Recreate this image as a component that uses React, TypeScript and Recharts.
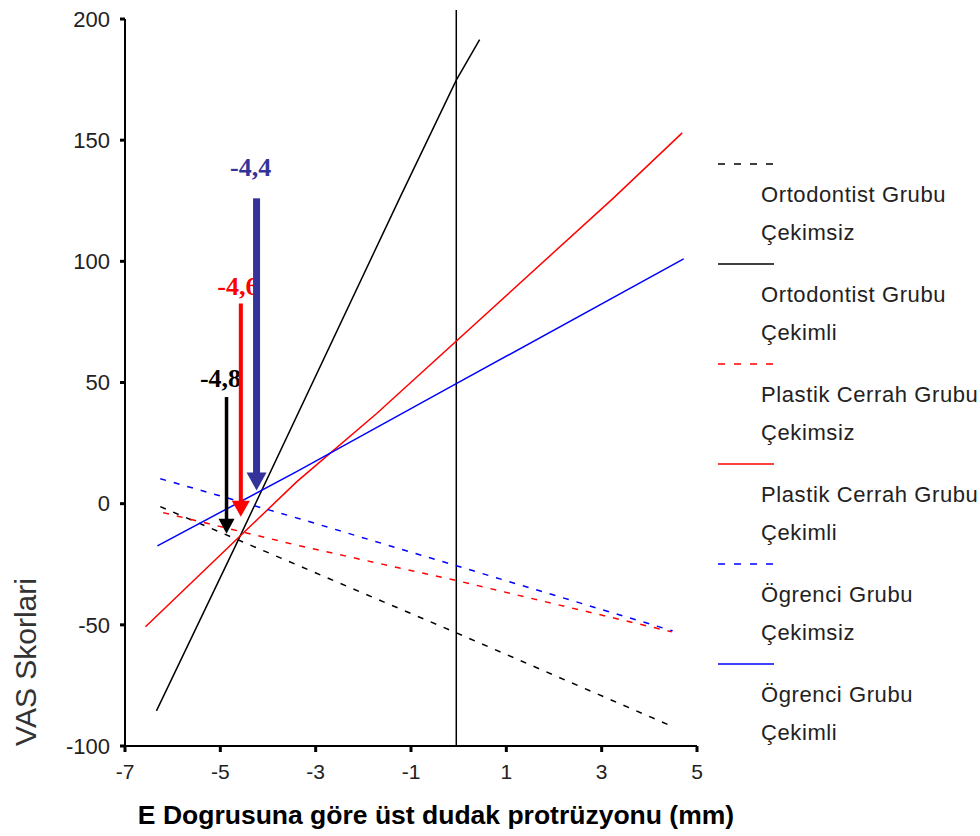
import React from 'react';
import { LineChart, Line, XAxis, YAxis, ReferenceLine, Legend } from 'recharts';

const xTicks = [-7, -5, -3, -1, 1, 3, 5];
const yTicks = [-100, -50, 0, 50, 100, 150, 200];

const ortoCekimsiz = [
  { x: -6.26, y: -1.2 },
  { x: -5.18, y: -10.3 },
  { x: -0.05, y: -53.3 },
  { x: 4.49, y: -92 },
];
const ortoCekimli = [
  { x: -6.34, y: -85.5 },
  { x: -4.66, y: -16.5 },
  { x: -1.24, y: 126 },
  { x: -0.05, y: 174.8 },
  { x: 0.44, y: 191.5 },
];
const plastikCekimsiz = [
  { x: -6.2, y: -3.7 },
  { x: -3.34, y: -17.4 },
  { x: -0.05, y: -31.7 },
  { x: 4.47, y: -52.9 },
];
const plastikCekimli = [
  { x: -6.57, y: -50.8 },
  { x: -3.4, y: 9 },
  { x: -1.72, y: 37.2 },
  { x: 3.24, y: 126 },
  { x: 4.69, y: 153 },
];
const ogrenciCekimsiz = [
  { x: -6.26, y: 10.3 },
  { x: -3.34, y: -6.2 },
  { x: -0.05, y: -25.6 },
  { x: 4.49, y: -52.5 },
];
const ogrenciCekimli = [
  { x: -6.32, y: -17.4 },
  { x: -3.4, y: 13.2 },
  { x: -0.05, y: 49.5 },
  { x: 4.72, y: 101 },
];

const refX = -0.05;
const refTop = 203.7;

const arrows = [
  { label: '-4,8', x: -4.87, top: 44, tip: -12.4, color: '#000000' },
  { label: '-4,6', x: -4.57, top: 82.6, tip: -5.4, color: '#ff0000' },
  { label: '-4,4', x: -4.24, top: 126, tip: 5.4, color: '#333399' },
];
const arrowStyle = [
  { shaft: 3.5, headW: 16, headL: 15, dx: -6, dy: -10 },
  { shaft: 4, headW: 18, headL: 16, dx: -3, dy: -8 },
  { shaft: 7, headW: 20, headL: 18, dx: -6, dy: -22 },
];

const legendItems = [
  { name1: 'Ortodontist Grubu', name2: 'Çekimsiz', color: '#000000', dash: true },
  { name1: 'Ortodontist Grubu', name2: 'Çekimli', color: '#000000', dash: false },
  { name1: 'Plastik Cerrah Grubu', name2: 'Çekimsiz', color: '#ff0000', dash: true },
  { name1: 'Plastik Cerrah Grubu', name2: 'Çekimli', color: '#ff0000', dash: false },
  { name1: 'Ögrenci Grubu', name2: 'Çekimsiz', color: '#0000ff', dash: true },
  { name1: 'Ögrenci Grubu', name2: 'Çekimli', color: '#0000ff', dash: false },
];

const series = [
  { data: ortoCekimsiz, color: '#000000', dash: true, name: 'oc' },
  { data: ortoCekimli, color: '#000000', dash: false, name: 'ol' },
  { data: plastikCekimsiz, color: '#ff0000', dash: true, name: 'pc' },
  { data: plastikCekimli, color: '#ff0000', dash: false, name: 'pl' },
  { data: ogrenciCekimsiz, color: '#0000ff', dash: true, name: 'gc' },
  { data: ogrenciCekimli, color: '#0000ff', dash: false, name: 'gl' },
];

const makeArrow = (i: number) => (props: any) => {
  const { x1, y1, x2, y2 } = props;
  const a = arrows[i];
  const s = arrowStyle[i];
  const x = x1;
  const top = Math.min(y1, y2);
  const tip = Math.max(y1, y2);
  return (
    <g>
      <text
        x={x + s.dx}
        y={top + s.dy}
        textAnchor="middle"
        fill={a.color}
        fontFamily="'Liberation Serif', serif"
        fontWeight="bold"
        fontSize={26}
      >
        {a.label}
      </text>
      <rect x={x - s.shaft / 2} y={top} width={s.shaft} height={tip - top - s.headL + 1} fill={a.color} />
      <polygon
        points={`${x - s.headW / 2},${tip - s.headL} ${x + s.headW / 2},${tip - s.headL} ${x},${tip}`}
        fill={a.color}
      />
    </g>
  );
};

const renderLegend = () => (
  <div style={{ fontFamily: "'Liberation Sans', Arial, sans-serif", fontSize: 22, color: '#222', letterSpacing: '0.6px' }}>
    {legendItems.map((it, i) => (
      <div key={i} style={{ position: 'relative', height: 100 }}>
        <svg width={56} height={20} style={{ position: 'absolute', left: 0, top: 0 }}>
          <line
            x1={0}
            y1={10}
            x2={56}
            y2={10}
            stroke={it.color}
            strokeWidth={1.5}
            strokeDasharray={it.dash ? '7 9' : undefined}
          />
        </svg>
        <div style={{ position: 'absolute', left: 43, top: 41, transform: 'translateY(-50%)', whiteSpace: 'nowrap', lineHeight: '24px' }}>
          {it.name1}
        </div>
        <div style={{ position: 'absolute', left: 43, top: 79, transform: 'translateY(-50%)', whiteSpace: 'nowrap', lineHeight: '24px' }}>
          {it.name2}
        </div>
      </div>
    ))}
  </div>
);

const yLabel = () => (
  <text
    x={25}
    y={662}
    transform="rotate(-90 25 662)"
    textAnchor="middle"
    dominantBaseline="central"
    fontFamily="'Liberation Sans', Arial, sans-serif"
    fontSize={30}
    fill="#333"
  >
    VAS Skorlari
  </text>
);

const xLabel = () => (
  <text
    x={436}
    y={824}
    textAnchor="middle"
    fontFamily="'Liberation Sans', Arial, sans-serif"
    fontWeight="bold"
    fontSize={26.5}
    fill="#000"
  >
    E Dogrusuna göre üst dudak protrüzyonu (mm)
  </text>
);

export default function App() {
  return (
    <div style={{ position: 'absolute', left: 0, top: 0, width: 980, height: 836, background: '#fff' }}>
      <LineChart width={980} height={836} margin={{ top: 19, right: 283, bottom: 50, left: 65 }}>
        <XAxis
          type="number"
          dataKey="x"
          domain={[-7, 5]}
          ticks={xTicks}
          allowDataOverflow
          height={40}
          axisLine={{ stroke: '#000', strokeWidth: 2 }}
          tickLine={{ stroke: '#000', strokeWidth: 3 }}
          tickSize={6}
          tickMargin={12}
          tick={{ fill: '#222', fontSize: 21, fontFamily: "'Liberation Sans', Arial, sans-serif" }}
          label={xLabel}
        />
        <YAxis
          type="number"
          dataKey="y"
          domain={[-100, 200]}
          ticks={yTicks}
          allowDataOverflow
          width={60}
          axisLine={{ stroke: '#000', strokeWidth: 2 }}
          tickLine={{ stroke: '#000', strokeWidth: 3 }}
          tickSize={5}
          tickMargin={10}
          tick={{ fill: '#222', fontSize: 22, fontFamily: "'Liberation Sans', Arial, sans-serif" }}
          label={yLabel}
        />
        <ReferenceLine
          segment={[{ x: refX, y: -100 }, { x: refX, y: refTop }]}
          stroke="#000"
          strokeWidth={1.5}
          ifOverflow="visible"
        />
        {series.map((s) => (
          <Line
            key={s.name}
            data={s.data}
            dataKey="y"
            type="linear"
            stroke={s.color}
            strokeWidth={1.5}
            strokeDasharray={s.dash ? '6 8' : undefined}
            dot={false}
            activeDot={false}
            isAnimationActive={false}
            legendType="none"
          />
        ))}
        {arrows.map((a, i) => (
          <ReferenceLine
            key={a.label}
            segment={[{ x: a.x, y: a.top }, { x: a.x, y: a.tip }]}
            ifOverflow="visible"
            shape={makeArrow(i)}
          />
        ))}
        <Legend
          layout="horizontal"
          align="center"
          verticalAlign="middle"
          content={renderLegend}
          wrapperStyle={{ left: 718, top: 154, width: 262 }}
        />
      </LineChart>
    </div>
  );
}
